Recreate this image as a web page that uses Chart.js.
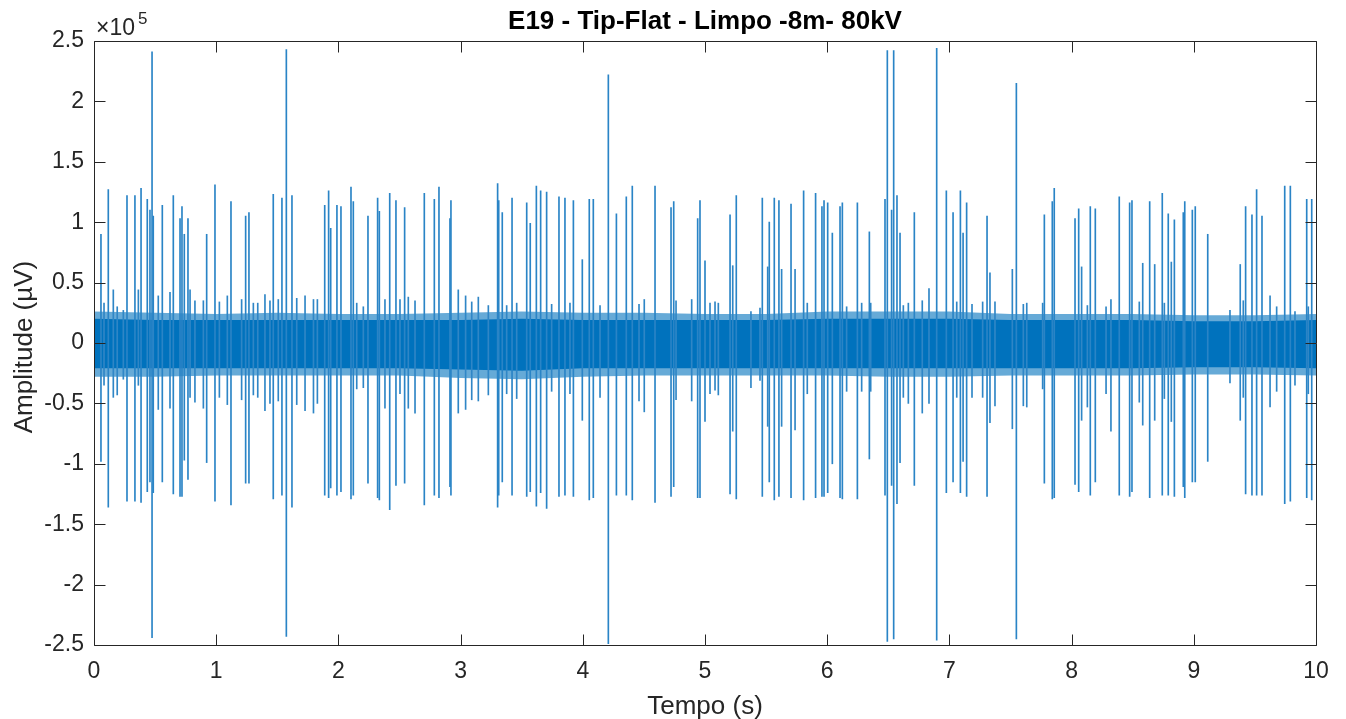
<!DOCTYPE html>
<html>
<head>
<meta charset="utf-8">
<script src="https://cdn.jsdelivr.net/npm/chart.js@4.4.1/dist/chart.umd.min.js"></script>
<style>
html,body{margin:0;padding:0;background:#fff;}
#c{display:block;}
</style>
</head>
<body>
<canvas id="c" width="1346" height="719" style="width:1346px;height:719px"></canvas>
<script>
// Amplitudes are in units of 1e5 µV (axis shows ×10^5)
const xTicks = [0,1,2,3,4,5,6,7,8,9,10];
const yTicks = [-2.5,-2,-1.5,-1,-0.5,0,0.5,1,1.5,2,2.5];

// Large discharge spikes: time (s), max and min amplitude
const spikeTimes = [0.057,0.117,0.270,0.335,0.385,0.436,0.458,0.475,0.485,0.559,0.649,0.704,0.720,0.739,0.769,0.922,0.990,1.121,1.241,1.268,1.467,1.538,1.574,1.620,1.888,1.920,1.937,1.988,2.021,2.103,2.122,2.242,2.321,2.335,2.420,2.471,2.542,2.703,2.785,2.823,2.913,2.921,3.303,3.312,3.341,3.421,3.541,3.570,3.620,3.655,3.704,3.805,3.854,3.923,3.996,4.053,4.086,4.209,4.275,4.356,4.405,4.591,4.722,4.744,4.940,4.959,5.000,5.205,5.256,5.469,5.526,5.567,5.605,5.704,5.807,5.905,5.957,5.974,6.004,6.042,6.105,6.124,6.247,6.345,6.473,6.492,6.527,6.544,6.571,6.596,6.713,6.896,6.975,7.030,7.090,7.112,7.141,7.308,7.548,7.777,7.842,7.858,8.028,8.058,8.153,8.194,8.390,8.475,8.494,8.639,8.742,8.791,8.841,8.914,8.926,8.988,9.012,9.114,9.424,9.476,9.514,9.558,9.744,9.790,9.924,9.965];
const spikeMax = [0.90,1.27,1.22,1.22,1.28,1.19,1.10,2.41,1.05,1.14,1.22,1.03,1.13,0.90,1.03,0.90,1.31,1.17,1.05,1.08,1.23,1.20,2.43,1.22,1.14,1.26,0.95,1.14,1.13,1.29,1.17,1.05,1.20,1.09,1.24,1.18,1.12,1.24,1.19,1.29,1.03,1.18,1.32,1.18,1.08,1.20,1.16,0.99,1.30,1.26,1.25,1.21,1.20,1.18,0.69,1.19,1.19,2.22,1.07,1.21,1.30,1.30,1.12,1.17,1.03,1.18,0.68,1.06,1.22,1.20,1.00,1.20,1.18,1.15,1.26,1.24,1.13,1.18,1.16,0.91,1.13,1.16,1.16,0.92,1.19,2.42,1.10,2.42,1.22,0.91,1.08,2.44,1.26,1.08,1.26,0.91,1.16,1.05,2.15,1.06,1.17,1.28,1.03,1.11,1.13,1.11,1.21,1.16,1.18,1.17,1.24,1.07,1.02,1.08,1.17,1.10,1.13,0.90,1.13,1.06,1.27,1.05,1.30,1.30,1.19,1.19];
const spikeMin = [-0.98,-1.36,-1.31,-1.31,-1.32,-1.23,-1.15,-2.44,-1.24,-1.15,-1.25,-1.27,-1.27,-0.97,-1.13,-0.99,-1.31,-1.34,-1.16,-1.16,-1.29,-1.26,-2.43,-1.36,-1.26,-1.28,-1.20,-1.26,-1.23,-1.29,-1.26,-1.16,-1.28,-1.30,-1.38,-1.18,-1.16,-1.34,-1.26,-1.28,-1.19,-1.26,-1.36,-1.26,-1.15,-1.26,-1.27,-1.23,-1.35,-1.24,-1.37,-1.27,-1.26,-1.27,-0.64,-1.30,-1.28,-2.49,-1.26,-1.26,-1.30,-1.32,-1.27,-1.19,-1.28,-1.28,-0.65,-1.25,-1.29,-1.27,-1.15,-1.30,-1.27,-1.28,-1.30,-1.28,-1.27,-1.27,-1.24,-1.00,-1.28,-1.29,-1.29,-0.96,-1.26,-2.47,-1.18,-2.45,-1.33,-0.99,-1.18,-2.46,-1.24,-1.15,-1.24,-0.98,-1.27,-1.27,-2.45,-1.16,-1.29,-1.28,-1.17,-1.23,-1.26,-1.15,-1.26,-1.27,-1.23,-1.28,-1.26,-1.26,-1.27,-1.19,-1.28,-1.15,-1.15,-0.98,-1.25,-1.26,-1.26,-1.26,-1.33,-1.31,-1.28,-1.30];

// Smaller pulses just above the noise floor
const smallTimes = [0.082,0.158,0.190,0.240,0.363,0.526,0.622,0.786,0.826,0.895,1.026,1.091,1.208,1.304,1.340,1.399,1.440,1.508,1.659,1.727,1.796,1.828,2.150,2.204,2.381,2.504,2.572,2.627,2.981,3.041,3.091,3.145,3.227,3.377,3.459,3.745,3.895,4.141,4.460,4.503,4.763,4.891,5.041,5.082,5.109,5.227,5.376,5.450,5.513,5.627,5.737,5.837,6.159,6.282,6.356,6.623,6.664,6.778,6.833,7.060,7.185,7.272,7.332,7.373,7.515,7.605,7.633,7.763,8.082,8.129,8.282,8.322,8.554,8.582,8.680,8.759,8.816,9.296,9.380,9.405,9.624,9.678,9.828,9.937];
const smallMax = [0.33,0.44,0.30,0.27,0.44,0.39,0.42,0.44,0.35,0.35,0.34,0.39,0.36,0.33,0.33,0.40,0.35,0.36,0.37,0.39,0.36,0.36,0.33,0.30,0.36,0.36,0.38,0.35,0.44,0.39,0.34,0.38,0.31,0.31,0.33,0.32,0.33,0.31,0.32,0.36,0.35,0.36,0.33,0.34,0.33,0.64,0.26,0.29,0.63,0.61,0.61,0.33,0.30,0.33,0.33,0.31,0.33,0.35,0.45,0.34,0.32,0.34,0.58,0.34,0.61,0.32,0.33,0.33,0.63,0.31,0.30,0.36,0.34,0.66,0.65,0.33,0.67,0.27,0.65,0.35,0.39,0.30,0.26,0.30];
const smallMin = [-0.35,-0.45,-0.43,-0.30,-0.35,-0.55,-0.54,-0.45,-0.49,-0.54,-0.45,-0.51,-0.47,-0.43,-0.45,-0.56,-0.50,-0.48,-0.51,-0.56,-0.58,-0.50,-0.38,-0.37,-0.54,-0.42,-0.54,-0.58,-0.58,-0.55,-0.47,-0.48,-0.43,-0.42,-0.46,-0.40,-0.42,-0.45,-0.48,-0.57,-0.47,-0.48,-0.42,-0.39,-0.43,-0.73,-0.37,-0.31,-0.69,-0.69,-0.72,-0.42,-0.40,-0.40,-0.40,-0.45,-0.50,-0.58,-0.50,-0.45,-0.45,-0.45,-0.66,-0.52,-0.71,-0.52,-0.53,-0.38,-0.64,-0.53,-0.42,-0.73,-0.49,-0.68,-0.64,-0.46,-0.65,-0.33,-0.64,-0.45,-0.53,-0.40,-0.35,-0.42];

// Background noise envelope (dense band and its fuzzy fringe)
const noiseTimes = [0,0.5,1,1.5,2,2.5,3,3.5,4,4.5,5,5.5,6,6.5,7,7.5,8,8.5,9,9.5,10];
const noiseUpper = [0.20,0.19,0.19,0.19,0.19,0.19,0.19,0.20,0.19,0.19,0.19,0.19,0.20,0.20,0.20,0.19,0.19,0.19,0.18,0.18,0.19];
const noiseLower = [-0.21,-0.21,-0.21,-0.21,-0.21,-0.21,-0.22,-0.23,-0.21,-0.21,-0.21,-0.21,-0.21,-0.21,-0.21,-0.21,-0.21,-0.21,-0.20,-0.20,-0.21];
const fringeUpper = [0.26,0.25,0.24,0.25,0.24,0.24,0.25,0.26,0.25,0.25,0.24,0.24,0.26,0.26,0.26,0.24,0.24,0.24,0.23,0.23,0.24];
const fringeLower = [-0.28,-0.28,-0.27,-0.27,-0.27,-0.27,-0.29,-0.30,-0.28,-0.27,-0.27,-0.27,-0.27,-0.28,-0.28,-0.27,-0.27,-0.27,-0.26,-0.26,-0.27];

const BLUE = '#0072BD';
const AXC = '#262626';
const FONT = '"Liberation Sans", Arial, Helvetica, sans-serif';

const pts = (xs, ys) => xs.map((t, i) => ({x: t, y: ys[i]}));
const bars = (xs, lo, hi) => xs.map((t, i) => ({x: t, y: [lo[i], hi[i]]}));

const decor = {
  id: 'decor',
  afterDraw(chart) {
    const {ctx, chartArea: a, scales: {x, y}} = chart;
    ctx.save();
    ctx.strokeStyle = AXC;
    ctx.lineWidth = 1;
    const L = Math.round(a.left) + 0.5, R = Math.round(a.right) + 0.5;
    const T = Math.round(a.top) + 0.5, B = Math.round(a.bottom) + 0.5;
    ctx.beginPath();
    ctx.rect(L, T, R - L, B - T);
    const tl = 11;
    xTicks.forEach(v => {
      const px = Math.round(x.getPixelForValue(v)) + 0.5;
      ctx.moveTo(px, B); ctx.lineTo(px, B - tl);
      ctx.moveTo(px, T); ctx.lineTo(px, T + tl);
    });
    yTicks.forEach(v => {
      const py = Math.round(y.getPixelForValue(v)) + 0.5;
      ctx.moveTo(L, py); ctx.lineTo(L + tl, py);
      ctx.moveTo(R, py); ctx.lineTo(R - tl, py);
    });
    ctx.stroke();

    // title
    ctx.fillStyle = '#000';
    ctx.font = 'bold 26px ' + FONT;
    ctx.textAlign = 'center';
    ctx.textBaseline = 'alphabetic';
    ctx.fillText('E19 - Tip-Flat - Limpo -8m- 80kV', (a.left + a.right) / 2, 29);

    // axis labels
    ctx.fillStyle = AXC;
    ctx.font = '26px ' + FONT;
    ctx.fillText('Tempo (s)', (a.left + a.right) / 2, 714);
    ctx.save();
    ctx.translate(32, 347);
    ctx.rotate(-Math.PI / 2);
    ctx.fillText('Amplitude (\u00B5V)', 0, 0);
    ctx.restore();

    // exponent
    ctx.textAlign = 'left';
    ctx.font = '23px ' + FONT;
    ctx.fillText('\u00D710', 96, 35);
    ctx.font = '17px ' + FONT;
    ctx.fillText('5', 138, 24);
    ctx.restore();
  }
};

new Chart(document.getElementById('c'), {
  type: 'bar',
  data: {
    datasets: [
      {type: 'line', data: pts(noiseTimes, fringeUpper), fill: '+1', backgroundColor: 'rgba(0,114,189,0.6)', borderWidth: 0, pointRadius: 0, tension: 0, order: 10},
      {type: 'line', data: pts(noiseTimes, fringeLower), fill: false, borderWidth: 0, pointRadius: 0, tension: 0, order: 10},
      {type: 'line', data: pts(noiseTimes, noiseUpper), fill: '+1', backgroundColor: BLUE, borderWidth: 0, pointRadius: 0, tension: 0, order: 9},
      {type: 'line', data: pts(noiseTimes, noiseLower), fill: false, borderWidth: 0, pointRadius: 0, tension: 0, order: 9},
      {type: 'bar', data: bars(smallTimes, smallMin, smallMax), backgroundColor: '#2f86c6', barThickness: 1, grouped: false, order: 2},
      {type: 'bar', data: bars(spikeTimes, spikeMin, spikeMax), backgroundColor: '#2a84c6', barThickness: 1, grouped: false, order: 1}
    ]
  },
  options: {
    responsive: false,
    maintainAspectRatio: false,
    animation: false,
    events: [],
    layout: {padding: {top: 41, right: 30, left: 0, bottom: 0}},
    plugins: {legend: {display: false}, tooltip: {enabled: false}, title: {display: false}},
    scales: {
      x: {
        type: 'linear', min: 0, max: 10, offset: false,
        afterBuildTicks: s => { s.ticks = xTicks.map(v => ({value: v})); },
        ticks: {color: AXC, font: {family: FONT, size: 23}, padding: 13, maxRotation: 0, autoSkip: false, callback: v => String(v)},
        grid: {display: false, drawTicks: false},
        border: {display: false},
        afterFit: s => { s.height = 74; }
      },
      y: {
        type: 'linear', min: -2.5, max: 2.5,
        afterBuildTicks: s => { s.ticks = yTicks.map(v => ({value: v})); },
        ticks: {color: AXC, font: {family: FONT, size: 23}, padding: 10, autoSkip: false, callback: v => String(Math.round(v * 10) / 10)},
        grid: {display: false, drawTicks: false},
        border: {display: false},
        afterFit: s => { s.width = 94; }
      }
    }
  },
  plugins: [decor]
});
</script>
</body>
</html>
